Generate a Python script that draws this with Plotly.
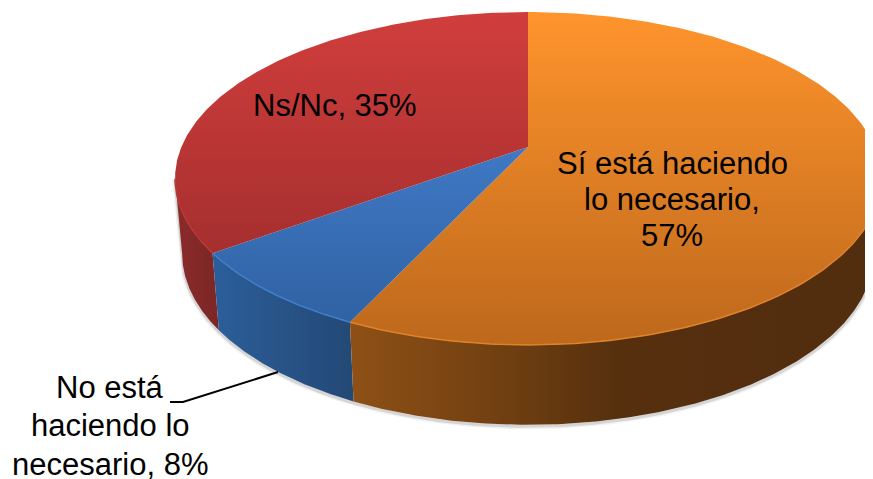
import numpy as np
import plotly.graph_objects as go

# Data, clockwise from 12 o'clock
categories = ["Sí está haciendo lo necesario", "No está haciendo lo necesario", "Ns/Nc"]
values = [57, 8, 35]
label_lines = [
    ["Sí está haciendo", "lo necesario,", "57%"],
    ["No está", "haciendo lo", "necesario, 8%"],
    ["Ns/Nc, 35%"],
]

# Colours per slice
top_colors = [("#ff942c", "#bd681c"), ("#4a8ade", "#2e5f9f"), ("#d03e3c", "#96292a")]
edge_colors = ["#e0822a", "#3f7fc8", "#b83a38"]
side_colors = [
    [[0, "#8e5016"], [0.3, "#6f3f11"], [0.52, "#552f0e"], [1, "#522d0e"]],
    [[0, "#2b5d98"], [1, "#234874"]],
    [[0, "#8c2b2a"], [1, "#7a2626"]],
]
side_span = [(352, 873), (221, 356), (175, 221)]

# Projection of the tilted disc (perspective)
CX, CY, A, B, K = 528, 147, 346.6, 160.5, 0.189
BX, BY0, BY = 0.98, 221, 1.03


def top(theta):
    u, v = np.sin(theta), np.cos(theta)
    d = 1 + K * v
    return CX + A * u / d, CY - B * v / d


def bottom(theta):
    x, y = top(theta)
    return CX + BX * (x - CX), BY0 + BY * (y - CY)


fracs = np.array(values) / sum(values)
edges = np.concatenate([[0], np.cumsum(fracs)]) * 2 * np.pi
# The rim shows between the two silhouette points of the projected circle
vis_r = np.arccos(-K)
vis_l = 2 * np.pi - vis_r
fig = go.Figure()

# Soft shadow under the disc
t = np.linspace(vis_r, vis_l, 240)
sx, sy = bottom(t)
sx = np.r_[top(vis_l)[0], sx[::-1], top(vis_r)[0]]
sy = np.r_[top(vis_l)[1], sy[::-1], top(vis_r)[1]]
for w, c in [(6, "rgba(110,110,110,0.09)"), (3, "rgba(110,110,110,0.22)")]:
    fig.add_trace(go.Scatter(x=sx, y=sy + 1.5, mode="lines", line=dict(color=c, width=w), hoverinfo="skip"))

# Rim: only its visible part, farthest slice first
for i in [2, 1, 0]:
    t = np.linspace(max(edges[i], vis_r), min(edges[i + 1], vis_l), 200)
    xt, yt = top(t)
    xb, yb = bottom(t)
    fig.add_trace(go.Scatter(
        x=np.r_[xt, xb[::-1]], y=np.r_[yt, yb[::-1]], mode="lines", fill="toself",
        line=dict(width=0, color="rgba(0,0,0,0)"),
        fillgradient=dict(type="horizontal", colorscale=side_colors[i],
                          start=side_span[i][0], stop=side_span[i][1]),
        hoverinfo="skip"))

# Top faces
for i in range(3):
    t = np.linspace(edges[i], edges[i + 1], 200)
    xt, yt = top(t)
    hi, lo = top_colors[i]
    fig.add_trace(go.Scatter(
        x=np.r_[CX, xt, CX], y=np.r_[CY, yt, CY], mode="lines", fill="toself",
        line=dict(width=0, color="rgba(0,0,0,0)"),
        fillgradient=dict(type="vertical", colorscale=[[0, hi], [1, lo]], start=12, stop=345),
        hoverinfo="skip"))
    # Light bevel along the front of the face
    t = np.linspace(max(edges[i], vis_r), min(edges[i + 1], vis_l), 120)
    xt, yt = top(t)
    fig.add_trace(go.Scatter(x=xt, y=yt, mode="lines", line=dict(color=edge_colors[i], width=1.5), hoverinfo="skip"))

# Leader line of the small slice
leader_x = [278, 183, 170]
leader_y = [372, 402, 402]
fig.add_trace(go.Scatter(x=leader_x, y=leader_y, mode="lines", line=dict(color="black", width=2), hoverinfo="skip"))

label_pos = [(672, 163, 36), (110, 387, 38.5), (335, 105, 0)]
font = dict(family="Liberation Sans, Arial, sans-serif", size=31, color="black")
for lines, (lx, ly, dy) in zip(label_lines, label_pos):
    for n, line in enumerate(lines):
        fig.add_annotation(x=lx, y=ly + n * dy, text=line, showarrow=False, font=font,
                           align="center", xanchor="center", yanchor="middle")

# The page body has an 8 px margin, so the figure fills what is left of the window
fig.update_layout(
    width=865, height=471, margin=dict(l=0, r=0, t=0, b=0), showlegend=False,
    paper_bgcolor="white", plot_bgcolor="white",
    xaxis=dict(range=[8, 873], visible=False, fixedrange=True),
    yaxis=dict(range=[479, 8], visible=False, fixedrange=True),
)
fig.write_html("out.html", config={"displayModeBar": False})
